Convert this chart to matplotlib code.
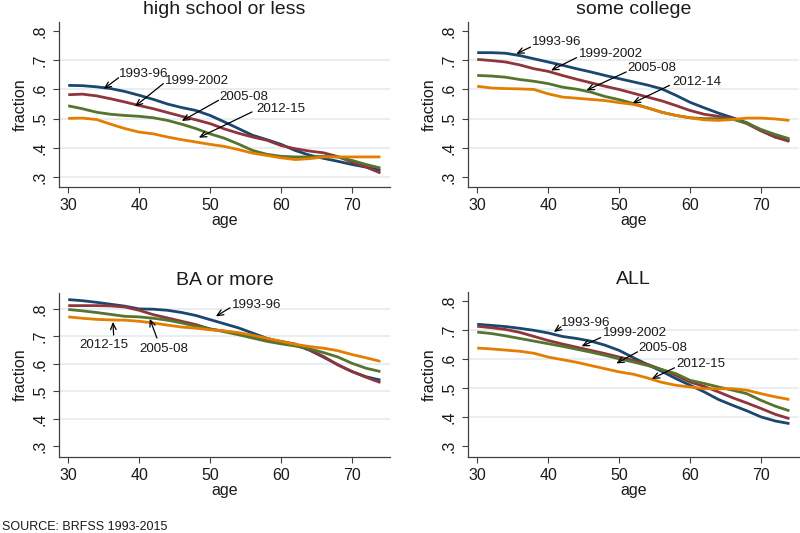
import numpy as np
from matplotlib import pyplot as plt

plt.rcParams['font.family'] = ['Liberation Sans', 'DejaVu Sans']

# ages read every 2 years
ages = np.arange(30, 75, 2)

# high school or less
hs_9396 = [.614, .613, .609, .603, .593, .580, .566, .550, .538, .528, .511, .489,
           .466, .443, .428, .412, .391, .375, .364, .354, .343, .334, .323]
hs_9902 = [.582, .584, .578, .568, .557, .545, .534, .521, .508, .496, .483, .465,
           .450, .437, .426, .408, .397, .389, .383, .370, .351, .334, .314]
hs_0508 = [.544, .534, .522, .515, .511, .508, .503, .494, .481, .466, .448, .433,
           .413, .391, .378, .371, .369, .369, .371, .369, .357, .343, .331]
hs_1215 = [.501, .502, .497, .481, .466, .454, .448, .437, .428, .420, .412, .405,
           .394, .382, .374, .366, .360, .363, .369, .369, .369, .369, .369]

# some college
sc_9396 = [.726, .726, .724, .716, .705, .694, .683, .671, .660, .648, .637, .626,
           .615, .602, .580, .556, .537, .519, .503, .486, .460, .437, .426]
sc_9902 = [.703, .699, .694, .684, .671, .662, .648, .635, .623, .611, .600, .587,
           .574, .561, .545, .528, .515, .508, .500, .483, .458, .437, .422]
sc_0508 = [.648, .646, .642, .634, .628, .620, .608, .601, .591, .576, .565, .552,
           .537, .522, .511, .503, .500, .500, .498, .485, .463, .446, .431]
sc_1214 = [.611, .605, .603, .602, .600, .585, .574, .570, .566, .562, .555, .549,
           .537, .522, .511, .503, .496, .494, .497, .502, .502, .499, .494]

# BA or more
ba_9396 = [.834, .830, .824, .817, .810, .800, .799, .795, .787, .776, .761, .746,
           .731, .712, .693, .680, .669, .650, .624, .597, .572, .553, .541]
ba_9902 = [.812, .812, .812, .811, .807, .795, .779, .767, .755, .743, .727, .719,
           .711, .700, .688, .682, .672, .651, .627, .596, .572, .551, .532]
ba_0508 = [.798, .793, .787, .780, .773, .771, .766, .759, .749, .737, .727, .717,
           .706, .694, .682, .673, .665, .655, .641, .625, .602, .584, .572]
ba_1215 = [.771, .766, .762, .760, .759, .755, .749, .741, .734, .730, .724, .720,
           .714, .704, .693, .682, .671, .663, .657, .648, .634, .622, .609]

# ALL
all_9396 = [.720, .716, .712, .706, .699, .690, .678, .671, .662, .648, .630, .605,
            .581, .558, .533, .510, .487, .461, .441, .422, .401, .387, .378]
all_9902 = [.713, .708, .702, .692, .678, .664, .652, .641, .630, .619, .607, .596,
            .582, .564, .544, .521, .506, .487, .467, .449, .430, .410, .395]
all_0508 = [.693, .688, .680, .671, .662, .653, .644, .634, .624, .613, .601, .590,
            .578, .564, .550, .527, .516, .504, .493, .481, .458, .438, .422]
all_1215 = [.638, .635, .631, .627, .620, .607, .598, .589, .578, .567, .556, .548,
            .535, .520, .510, .504, .498, .498, .498, .493, .481, .470, .461]

colors = ['#1a476f', '#90353b', '#55752f', '#e37e00']
yticks = [.3, .4, .5, .6, .7, .8]
ytick_labels = ['.3', '.4', '.5', '.6', '.7', '.8']

W, H = 800, 533


def make_axes(fig, left, top, right, bottom):
    return fig.add_axes([left / W, 1 - bottom / H, (right - left) / W, (bottom - top) / H])


def style_panel(ax, title, ylim, grid):
    ax.set_xlim(28.7, 75.35)
    ax.set_ylim(*ylim)
    for y in grid:
        ax.axhline(y, color='#e6eef2', lw=1.3, zorder=0)
    for s in ['top', 'right']:
        ax.spines[s].set_visible(False)
    for s in ['left', 'bottom']:
        ax.spines[s].set_color('#404040')
        ax.spines[s].set_linewidth(0.9)
    ax.set_xticks([30, 40, 50, 60, 70])
    ax.set_yticks(yticks)
    ax.set_yticklabels(ytick_labels, rotation=90, va='center')
    ax.tick_params(axis='both', direction='out', length=4, width=0.8, color='#404040',
                   labelsize=11.5, labelcolor='#1a1a1a')
    ax.tick_params(axis='y', pad=4)
    ax.tick_params(axis='x', pad=4)
    ax.set_xlabel('age', fontsize=11.5, labelpad=0, color='#1a1a1a')
    ax.set_ylabel('fraction', fontsize=11.5, labelpad=4, color='#1a1a1a')
    ax.set_title(title, fontsize=14, pad=6, color='#1a1a1a')


def arrow(ax, label, tail, head, text_xy, ha='left', va='center'):
    ax.annotate('', xy=head, xytext=tail,
                arrowprops=dict(arrowstyle='->,head_length=0.45,head_width=0.2',
                                lw=0.9, color='black', shrinkA=0, shrinkB=0))
    ax.text(text_xy[0], text_xy[1], label, fontsize=9.6, ha=ha, va=va, color='#1a1a1a')


fig = plt.figure(figsize=(8, 5.33), dpi=100)

panels = [
    ('high school or less', (59, 22, 390, 187), (.266, .831), [.3, .4, .5, .6, .7],
     [hs_9396, hs_9902, hs_0508, hs_1215]),
    ('some college', (468, 22, 799, 187), (.266, .831), [.4, .5, .6, .7],
     [sc_9396, sc_9902, sc_0508, sc_1214]),
    ('BA or more', (59, 293, 390, 457), (.261, .858), [.4, .5, .6, .7, .8],
     [ba_9396, ba_9902, ba_0508, ba_1215]),
    ('ALL', (468, 292, 799, 457), (.263, .831), [.4, .5, .6, .7],
     [all_9396, all_9902, all_0508, all_1215]),
]

axes = []
for title, box, ylim, grid, series in panels:
    ax = make_axes(fig, *box)
    style_panel(ax, title, ylim, grid)
    for vals, c in zip(series, colors):
        ax.plot(ages, vals, color=c, lw=2.0, solid_capstyle='butt')
    axes.append(ax)

ax1, ax2, ax3, ax4 = axes

arrow(ax1, '1993-96', (37.1, .640), (35.0, .602), (37.2, .654))
arrow(ax1, '1999-2002', (43.4, .620), (39.4, .542), (43.6, .628))
arrow(ax1, '2005-08', (51.2, .563), (46.0, .492), (51.3, .574))
arrow(ax1, '2012-15', (55.9, .523), (48.4, .435), (56.5, .534))

arrow(ax2, '1993-96', (37.5, .745), (35.5, .722), (37.7, .762))
arrow(ax2, '1999-2002', (44.0, .709), (40.4, .665), (44.3, .722))
arrow(ax2, '2005-08', (51.0, .660), (45.4, .597), (51.1, .673))
arrow(ax2, '2012-14', (57.1, .614), (51.9, .553), (57.5, .625))

arrow(ax3, '1993-96', (52.8, .804), (50.8, .773), (53.1, .816))
arrow(ax3, '2012-15', (36.4, .705), (36.3, .753), (35.1, .669), ha='center')
arrow(ax3, '2005-08', (42.5, .694), (41.5, .764), (43.5, .654), ha='center')

arrow(ax4, '1993-96', (41.8, .711), (40.8, .693), (41.8, .724))
arrow(ax4, '1999-2002', (47.4, .674), (44.7, .644), (47.7, .690))
arrow(ax4, '2005-08', (52.6, .625), (49.6, .585), (52.7, .639))
arrow(ax4, '2012-15', (57.8, .570), (54.6, .532), (58.1, .584))

fig.text(2 / W, 1 - 527 / H, 'SOURCE: BRFSS 1993-2015', fontsize=9, ha='left', va='center',
         color='#1a1a1a')

fig.savefig('out.png', dpi=100, facecolor='white')
